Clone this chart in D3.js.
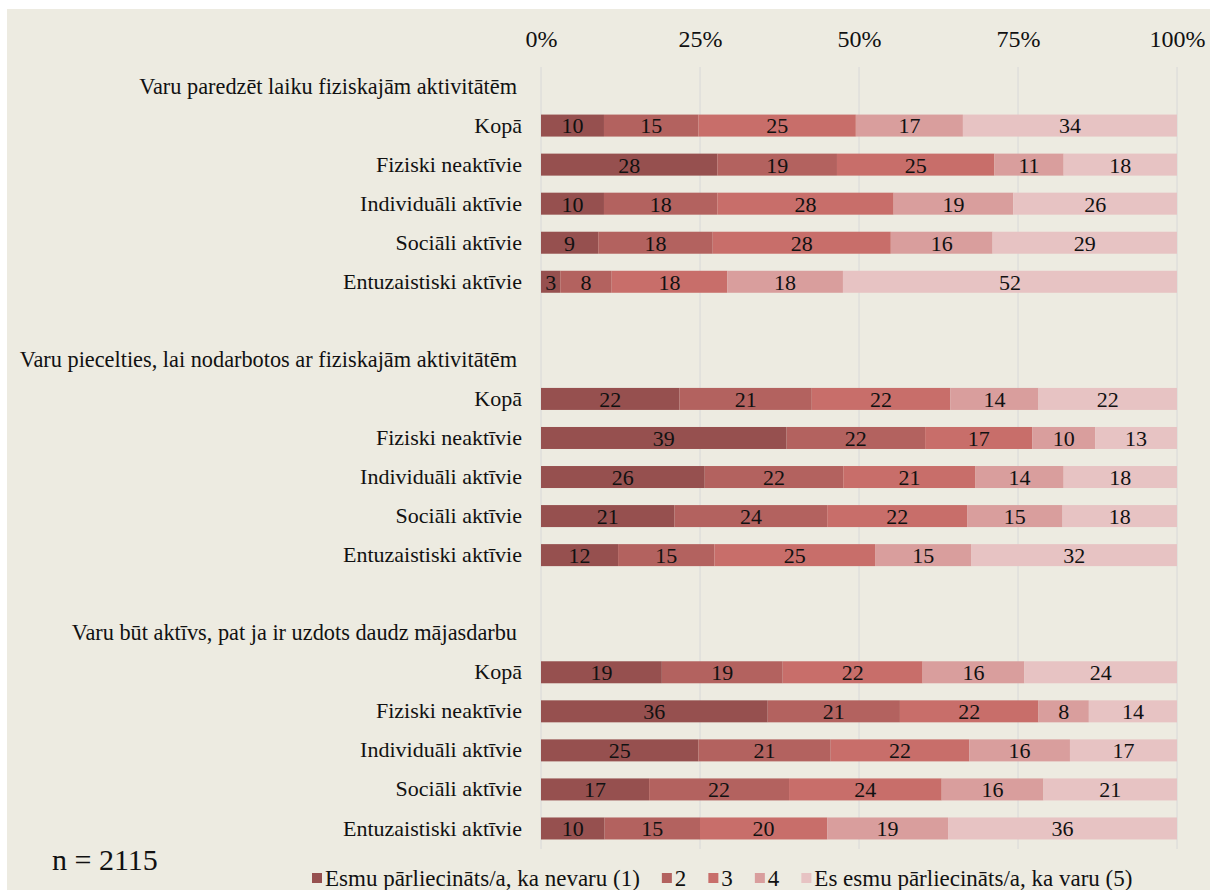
<!DOCTYPE html>
<html>
<head>
<meta charset="utf-8">
<script src="https://cdn.jsdelivr.net/npm/d3@7"></script>
<style>
  html, body { margin: 0; padding: 0; background: #fff; }
  svg { display: block; }
  text { font-family: "Liberation Serif", "Times New Roman", serif; fill: #111; }
</style>
</head>
<body>
<svg id="chart" width="1210" height="890"></svg>
<script>
// ---- data ----
const groupTitles = [
  "Varu paredzēt laiku fiziskajām aktivitātēm",
  "Varu piecelties, lai nodarbotos ar fiziskajām aktivitātēm",
  "Varu būt aktīvs, pat ja ir uzdots daudz mājasdarbu"
];
const categories = ["Kopā", "Fiziski neaktīvie", "Individuāli aktīvie", "Sociāli aktīvie", "Entuzaistiski aktīvie"];
const seriesNames = ["Esmu pārliecināts/a, ka nevaru (1)", "2", "3", "4", "Es esmu pārliecināts/a, ka varu (5)"];
const group1Values = [
  [10, 15, 25, 17, 34],
  [28, 19, 25, 11, 18],
  [10, 18, 28, 19, 26],
  [9, 18, 28, 16, 29],
  [3, 8, 18, 18, 52]
];
const group2Values = [
  [22, 21, 22, 14, 22],
  [39, 22, 17, 10, 13],
  [26, 22, 21, 14, 18],
  [21, 24, 22, 15, 18],
  [12, 15, 25, 15, 32]
];
const group3Values = [
  [19, 19, 22, 16, 24],
  [36, 21, 22, 8, 14],
  [25, 21, 22, 16, 17],
  [17, 22, 24, 16, 21],
  [10, 15, 20, 19, 36]
];
const tickValues = [0, 0.25, 0.5, 0.75, 1];
const sampleNote = "n = 2115";
const colors = ["#96504F", "#B3625F", "#C86E6A", "#D99E9D", "#E7C3C3"];

// ---- build slots ----
const groupValues = [group1Values, group2Values, group3Values];
const slots = [];
groupValues.forEach((vals, g) => {
  slots.push({ key: `t${g}`, type: "title", label: groupTitles[g] });
  categories.forEach((c, i) => slots.push({ key: `r${g}-${i}`, type: "row", label: c, values: vals[i] }));
  if (g < groupValues.length - 1) slots.push({ key: `b${g}`, type: "blank", label: "" });
});

const svg = d3.select("#chart");
const W = 1210, H = 890;
svg.append("rect").attr("x", 7).attr("y", 9).attr("width", W - 7).attr("height", H - 9).attr("fill", "#EDEBE1");

const x = d3.scaleLinear().domain([0, 1]).range([541, 1177]);
const y = d3.scaleBand().domain(slots.map(s => s.key)).range([67, 848]).paddingInner(0).paddingOuter(0);
const barH = 22;

// gridlines
svg.append("g").selectAll("line").data(tickValues).join("line")
  .attr("x1", d => x(d)).attr("x2", d => x(d))
  .attr("y1", 67).attr("y2", 849)
  .attr("stroke", "#D8D8D8").attr("stroke-width", 1);

// top axis labels
const axTop = svg.append("g").attr("transform", "translate(0,47)")
  .call(d3.axisTop(x).tickValues(tickValues).tickFormat(d3.format(".0%")).tickSize(0).tickPadding(0));
axTop.select(".domain").remove();
axTop.selectAll("text").style("font-family", '"Liberation Serif", serif').style("font-size", "24px").attr("fill", "#111");

// left axis labels
const axLeft = svg.append("g").attr("transform", "translate(541,0)")
  .call(d3.axisLeft(y).tickFormat(k => slots.find(s => s.key === k).label).tickSize(0).tickPadding(19));
axLeft.select(".domain").remove();
axLeft.selectAll("text").style("font-family", '"Liberation Serif", serif').style("font-size", "22px").attr("fill", "#111");
axLeft.selectAll(".tick").filter(k => k.startsWith("t")).select("text").attr("x", -24).style("font-size", "22.3px");

// bars
const rows = slots.filter(s => s.type === "row").map(s => {
  const total = d3.sum(s.values);
  let acc = 0;
  const segs = s.values.map((v, i) => { const seg = { key: s.key, i, v, x0: acc / total, x1: (acc + v) / total }; acc += v; return seg; });
  return { key: s.key, segs };
});
const rowG = svg.append("g").selectAll("g").data(rows).join("g")
  .attr("transform", d => `translate(0,${y(d.key) + y.bandwidth() / 2 - barH / 2})`);
rowG.selectAll("rect").data(d => d.segs).join("rect")
  .attr("x", d => x(d.x0)).attr("width", d => x(d.x1) - x(d.x0))
  .attr("y", 0).attr("height", barH)
  .attr("fill", d => colors[d.i]);
rowG.selectAll("text").data(d => d.segs).join("text")
  .attr("x", d => (x(d.x0) + x(d.x1)) / 2).attr("y", barH / 2)
  .attr("dy", "0.36em").attr("text-anchor", "middle")
  .style("font-size", "22px")
  .text(d => d.v);

// n note
svg.append("text").attr("x", 52).attr("y", 870).style("font-size", "30px").text(sampleNote);

// legend
const leg = svg.append("g").attr("transform", "translate(312,878)");
let lx = 0;
seriesNames.forEach((name, i) => {
  leg.append("rect").attr("x", lx).attr("y", -5).attr("width", 10).attr("height", 10).attr("fill", colors[i]);
  const t = leg.append("text").attr("x", lx + 13).attr("y", 0).attr("dy", "0.36em").style("font-size", "23px").text(name);
  lx += 13 + t.node().getComputedTextLength() + 22;
});
</script>
</body>
</html>
